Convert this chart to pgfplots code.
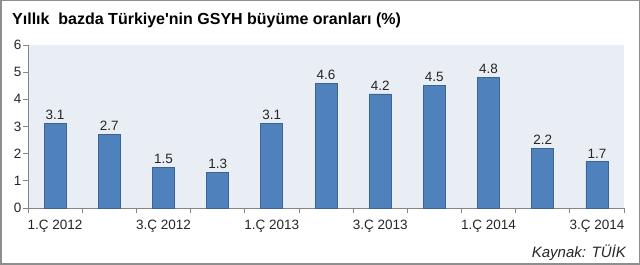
\documentclass[border=0pt]{standalone}
\usepackage{fontspec}
\setmainfont{Liberation Sans}
\usepackage{pgfplots}
\pgfplotsset{compat=1.18}
\definecolor{barfill}{HTML}{4F81BD}
\definecolor{baredge}{HTML}{3B6494}
\definecolor{plotbg}{HTML}{E9EDF4}
\definecolor{axisgray}{HTML}{868686}
\definecolor{framegray}{HTML}{8E8E8E}
\begin{document}
\begin{tikzpicture}[x=1pt,y=1pt]
\useasboundingbox (0,0) rectangle (640,265);
\fill[white] (0,0) rectangle (640,265);
\begin{axis}[
 at={(28pt,57pt)}, anchor=south west, scale only axis,
 width=596pt, height=163pt,
 xmin=-0.5, xmax=10.5, ymin=0, ymax=6,
 axis x line*=bottom, axis y line*=left,
 axis line style={axisgray, line width=0.8pt, -},
 axis background/.style={fill=plotbg},
 xtick={0,2,...,10},
 xticklabels={1.Ç 2012, 3.Ç 2012, 1.Ç 2013, 3.Ç 2013, 1.Ç 2014, 3.Ç 2014},
 minor xtick={-0.5,0.5,...,10.5},
 major x tick style={draw=none},
 minor x tick style={draw=axisgray, line width=0.8pt},
 ytick={0,1,...,6},
 major y tick style={draw=axisgray, line width=0.8pt},
 tick align=outside,
 major tick length=5pt, minor tick length=5pt,
 /pgf/number format/assume math mode=true,
 tick label style={font=\fontsize{13.5}{15}\selectfont, text=black!85},
 xticklabel style={yshift=-4pt},
 yticklabel style={xshift=2pt},
 ybar, bar width=22pt,
 nodes near coords,
 nodes near coords style={font=\fontsize{13.5}{15}\selectfont, text=black!85, /pgf/number format/.cd, fixed, fixed zerofill, precision=1, assume math mode=true},
 clip=false,
]
\addplot[fill=barfill, draw=baredge, line width=0.8pt] coordinates {
 (0,3.1) (1,2.7) (2,1.5) (3,1.3) (4,3.1) (5,4.6) (6,4.2) (7,4.5) (8,4.8) (9,2.2) (10,1.7)
};
\end{axis}
\node[anchor=west, inner sep=0pt, font=\bfseries\fontsize{16}{18}\selectfont] at (12,245) {Yıllık\ \ bazda Türkiye\textquotesingle nin GSYH büyüme oranları (\%)};
\node[anchor=base east, inner sep=0pt, font=\itshape\fontsize{15}{17}\selectfont, text=black!85] at (626,7) {Kaynak: TÜİK};
\draw[framegray, line width=1.5pt] (0.75,0.75) rectangle (639.25,264.25);
\end{tikzpicture}
\end{document}
